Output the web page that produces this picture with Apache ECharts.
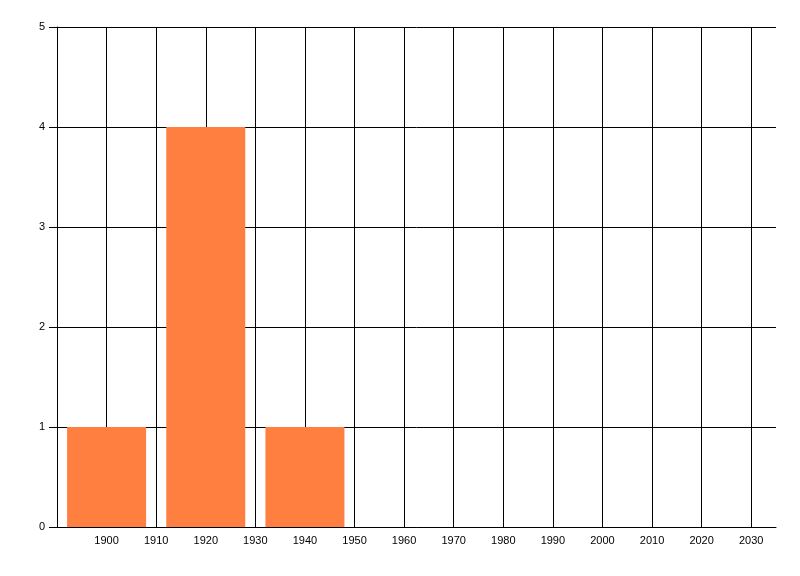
<!DOCTYPE html>
<html>
<head>
<meta charset="utf-8">
<script src="https://cdn.jsdelivr.net/npm/echarts@6/dist/echarts.min.js"></script>
<style>html,body{margin:0;padding:0;background:#fff}#c{width:800px;height:576px}</style>
</head>
<body>
<div id="c"></div>
<script>
var decades = [1900, 1920, 1940];
var counts = [1, 4, 1];
var xMin = 1890, xMax = 2035, xStep = 10;
var yMin = 0, yMax = 5, yStep = 1;

var chart = echarts.init(document.getElementById('c'), null, {renderer: 'canvas'});
var font = '"Liberation Sans", Arial, sans-serif';
chart.setOption({
  animation: false,
  grid: {left: 57, right: 24, top: 27, bottom: 49, containLabel: false},
  xAxis: {
    type: 'value', min: xMin, max: xMax, interval: xStep,
    axisLine: {show: true, onZero: false, lineStyle: {color: '#000', width: 1}},
    axisTick: {show: false},
    splitLine: {show: true, showMinLine: true, showMaxLine: false, lineStyle: {color: '#000', width: 1}},
    axisLabel: {
      margin: 8, color: '#000', fontSize: 11, fontFamily: font,
      showMinLabel: false, showMaxLabel: false,
      formatter: function (v) { return (v % 10 === 0 && v > xMin) ? String(v) : ''; }
    }
  },
  yAxis: {
    type: 'value', min: yMin, max: yMax, interval: yStep,
    axisLine: {show: true, lineStyle: {color: '#000', width: 1}},
    axisTick: {show: true, inside: false, length: 8, lineStyle: {color: '#000', width: 1}},
    splitLine: {show: true, lineStyle: {color: '#000', width: 1}},
    axisLabel: {margin: 12, color: '#000', fontSize: 11, fontFamily: font}
  },
  series: [{
    type: 'bar',
    data: decades.map(function (d, i) { return [d, counts[i]]; }),
    barWidth: 79,
    itemStyle: {color: '#FF7F40'}
  }]
});
</script>
</body>
</html>
